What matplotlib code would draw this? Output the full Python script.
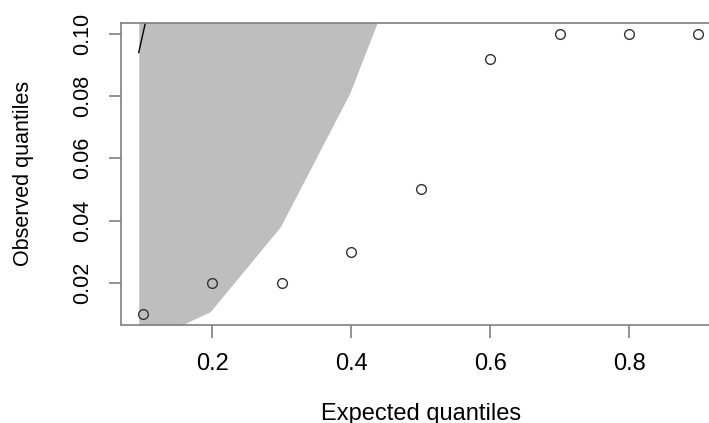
import numpy as np
import matplotlib
matplotlib.use("Agg")
import matplotlib.pyplot as plt

plt.rcParams['font.family'] = ['Liberation Sans', 'DejaVu Sans']

# observed vs expected quantiles
expected = [0.1, 0.2, 0.3, 0.4, 0.5, 0.6, 0.7, 0.8, 0.9]
observed = [0.01, 0.02, 0.02, 0.03, 0.05, 0.092, 0.10, 0.10, 0.10]

# grey confidence band
band_x = [0.094, 0.156, 0.197, 0.298, 0.398, 0.437, 0.5]
band_lo = [0.0, 0.0064, 0.0107, 0.038, 0.081, 0.1034, 0.121]
band_hi = [0.13, 0.13, 0.13, 0.13, 0.13, 0.13, 0.13]

# reference line y = x
ref_x = [0.094, 0.11]

xticks = [0.2, 0.4, 0.6, 0.8]
yticks = [0.02, 0.04, 0.06, 0.08, 0.10]

fig = plt.figure(figsize=(7.09, 4.23), dpi=100)
ax = fig.add_axes([0.1702, 0.2317, 1.0165 - 0.1702, 0.9463 - 0.2317])

ax.fill_between(band_x, band_lo, band_hi, color='#bebebe', linewidth=0)
ax.plot(ref_x, ref_x, color='black', linewidth=1)
ax.plot(expected, observed, 'o', markerfacecolor='none', markeredgecolor='#333333',
        markersize=7, markeredgewidth=1)

ax.set_xlim(0.068, 0.932)
ax.set_ylim(0.0064, 0.1036)
ax.set_xticks(xticks)
ax.set_xticklabels(['0.2', '0.4', '0.6', '0.8'])
ax.set_yticks(yticks)
ax.set_yticklabels(['0.02', '0.04', '0.06', '0.08', '0.10'], rotation=90, va='center')

for s in ax.spines.values():
    s.set_color('#808080')
    s.set_linewidth(1.2)
ax.tick_params(length=9, width=1.2, color='#808080', pad=11)
ax.tick_params(axis='x', labelsize=17)
ax.tick_params(axis='y', labelsize=15.5)

ax.set_xlabel('Expected quantiles', fontsize=17, labelpad=20)
ax.set_ylabel('Observed quantiles', fontsize=15.5, labelpad=27)

fig.savefig('out.png', dpi=100)
